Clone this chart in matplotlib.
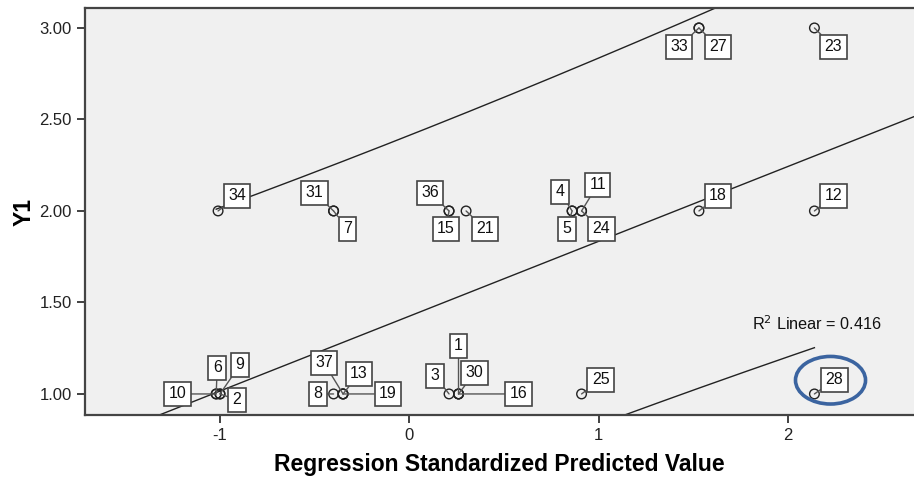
import numpy as np
import matplotlib
matplotlib.use('Agg')
import matplotlib.pyplot as plt
from matplotlib.patches import Ellipse

plt.rcParams['font.family'] = ['Liberation Sans', 'DejaVu Sans']
plt.rcParams['axes.unicode_minus'] = False

# case numbers, standardized predicted value, observed Y1
cases = [34, 31, 7, 36, 15, 21, 4, 5, 11, 24, 18, 12,
         33, 27, 23,
         10, 6, 9, 2, 8, 37, 13, 19, 3, 1, 30, 16, 25, 28]
zpred = [-1.01, -0.40, -0.40, 0.21, 0.21, 0.30, 0.86, 0.86, 0.91, 0.91, 1.53, 2.14,
         1.53, 1.53, 2.14,
         -1.02, -1.02, -1.00, -1.00, -0.40, -0.35, -0.35, -0.35, 0.21, 0.26, 0.26, 0.26, 0.91, 2.14]
y1 = [2, 2, 2, 2, 2, 2, 2, 2, 2, 2, 2, 2,
      3, 3, 3,
      1, 1, 1, 1, 1, 1, 1, 1, 1, 1, 1, 1, 1, 1]

# fit line
fit_intercept = 1.425
fit_slope = 0.409
pi_scale = 0.975
n_cases = 37
r2_text = 'R$^2$ Linear = 0.416'

# label box offsets in pixels (dx, dy)
label_off = {34: (19, 15), 31: (-19, 18), 7: (14, -18), 36: (-19, 18), 15: (-3, -18),
             21: (19, -18), 4: (-12, 19), 5: (-5, -18), 11: (16, 26), 24: (20, -18),
             18: (19, 15), 12: (19, 15), 33: (-20, -19), 27: (19, -19), 23: (19, -19),
             10: (-39, 0), 6: (1, 26), 9: (20, 29), 2: (17, -6), 8: (-16, 0),
             37: (-19, 31), 13: (16, 20), 19: (45, 0), 3: (-14, 18), 1: (0, 48),
             30: (16, 21), 16: (60, 0), 25: (19, 14), 28: (20, 14)}

fig = plt.figure(figsize=(9.14, 4.8), dpi=100)
ax = fig.add_axes([85/914, 65/480, 829/914, 407/480])
ax.set_facecolor('#F0F0F0')

ax.scatter(zpred, y1, s=48, facecolors='none', edgecolors='#222222', linewidths=1.0, zorder=3)

for c, zx, yy in zip(cases, zpred, y1):
    dx, dy = label_off[c]
    ax.annotate(str(c), (zx, yy), xytext=(dx, dy), textcoords='offset pixels',
                ha='center', va='center', fontsize=11.5, color='#111111',
                bbox=dict(boxstyle='square,pad=0.28', fc='white', ec='#444444', lw=1.2),
                arrowprops=dict(arrowstyle='-', color='#555555', lw=1.0,
                                shrinkA=0, shrinkB=0),
                zorder=4)

xlim = (-1.713, 2.666)
xx = np.linspace(xlim[0], xlim[1], 200)
ax.plot(xx, fit_intercept + fit_slope * xx, color='#222222', lw=1.0, zorder=2)

zz = np.linspace(min(zpred), max(zpred), 200)
half = pi_scale * np.sqrt(1 + 1 / n_cases + zz ** 2 / (n_cases - 1))
ax.plot(zz, fit_intercept + fit_slope * zz + half, color='#222222', lw=1.0, zorder=2)
ax.plot(zz, fit_intercept + fit_slope * zz - half, color='#222222', lw=1.0, zorder=2)

ax.text(2.155, 1.385, r2_text, ha='center', va='center', fontsize=11.7, color='#111111')

ax.add_patch(Ellipse((2.225, 1.075), 0.37, 0.26, fill=False, ec='#3B64A0', lw=2.6, zorder=5))

ax.set_xlim(xlim)
ax.set_ylim(0.885, 3.109)
ax.set_xticks([-1, 0, 1, 2])
ax.set_yticks([1.0, 1.5, 2.0, 2.5, 3.0])
ax.yaxis.set_major_formatter(matplotlib.ticker.FormatStrFormatter('%.2f'))
ax.tick_params(direction='out', length=6, width=1.3, color='#333333', labelsize=12, labelcolor='#222222')

for s in ['left', 'bottom', 'top']:
    ax.spines[s].set_color('#444444')
    ax.spines[s].set_linewidth(1.6)
ax.spines['right'].set_visible(False)

ax.set_xlabel('Regression Standardized Predicted Value', fontsize=16.5, fontweight='bold', labelpad=7)
ax.set_ylabel('Y1', fontsize=16.5, fontweight='bold', labelpad=3)

fig.savefig('out.png', dpi=100)
